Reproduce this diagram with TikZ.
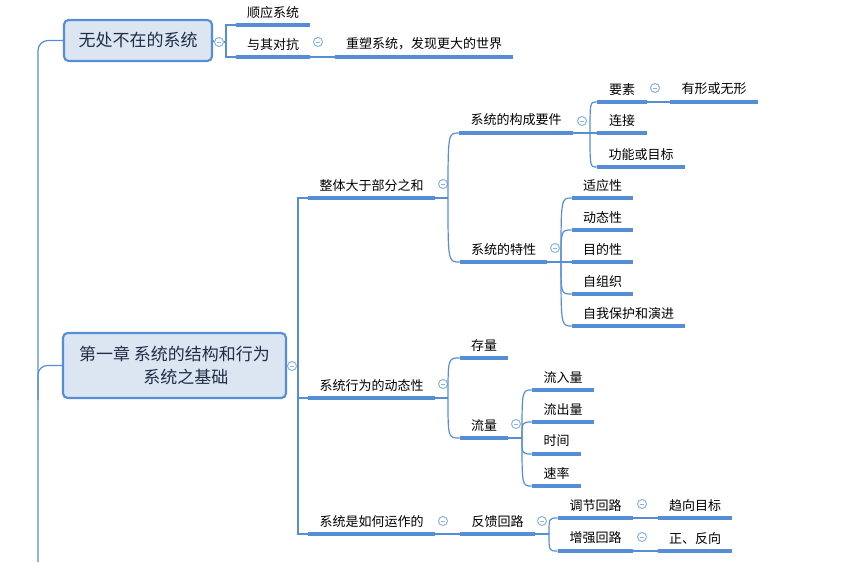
\documentclass[tikz,border=0pt]{standalone}
\usepackage{fontspec}
\setmainfont{Noto Sans CJK SC}
\usetikzlibrary{calc}
\definecolor{lblue}{RGB}{85,142,213}
\definecolor{fblue}{RGB}{141,179,226}
\definecolor{boxfill}{RGB}{220,230,242}
\definecolor{boxtext}{RGB}{31,45,70}
\newcommand\mybrace[2]{\draw[conn] (#1) .. controls (#1 |- #2.south west) and (#1 |- #2.south west) .. (#2.south west);}
\begin{document}
\begin{tikzpicture}[x=0.75pt,y=-0.75pt,
  conn/.style={draw=lblue, line width=0.9pt},
  uline/.style={draw=lblue, line width=2.4pt},
  topic/.style={anchor=south, inner sep=0pt, minimum height=19pt, font=\fontsize{9.75pt}{12pt}\selectfont, text=black},
  bigbox/.style={draw=lblue, line width=1.6pt, fill=boxfill, rounded corners=3.5pt, text=boxtext, font=\fontsize{12.75pt}{17pt}\selectfont, align=center, inner sep=0pt},
  fold/.style={circle, draw=fblue, fill=white, line width=0.75pt, minimum size=6.75pt, inner sep=0pt,
    path picture={\draw[fblue, line width=0.75pt] ([xshift=-1.8pt]path picture bounding box.center) -- ([xshift=1.8pt]path picture bounding box.center);}}
]
\useasboundingbox (0,0) rectangle (857,562);

% main boxes
\node[bigbox, minimum width=148*0.75pt, minimum height=41*0.75pt] (b1) at (138,40.5) {无处不在的系统};
\node[bigbox, minimum width=223*0.75pt, minimum height=65*0.75pt] (b2) at (174.5,365.5) {第一章 系统的结构和行为\\\hspace*{17pt}系统之基础};

% topics
\node[topic, minimum width=74*0.75pt] (a1) at (273,25) {顺应系统};
\node[topic, minimum width=74*0.75pt] (a2) at (273,57) {与其对抗};
\node[topic, minimum width=178*0.75pt] (a3) at (424,57) {重塑系统，发现更大的世界};

\node[topic, minimum width=127*0.75pt] (c1) at (371.5,198) {整体大于部分之和};
\node[topic, minimum width=127*0.75pt] (c2) at (371.5,398) {系统行为的动态性};
\node[topic, minimum width=127*0.75pt] (c3) at (371.5,534) {系统是如何运作的};

\node[topic, minimum width=114*0.75pt] (d1) at (516,133) {系统的构成要件};
\node[topic, minimum width=87*0.75pt] (d2) at (503.5,262) {系统的特性};

\node[topic, minimum width=50*0.75pt] (e1) at (622,102) {要素};
\node[topic, minimum width=50*0.75pt] (e2) at (622,133) {连接};
\node[topic, minimum width=88*0.75pt] (e3) at (641,167) {功能或目标};
\node[topic, minimum width=88*0.75pt] (e4) at (714,102) {有形或无形};

\node[topic, minimum width=61*0.75pt] (f1) at (602.5,198) {适应性};
\node[topic, minimum width=61*0.75pt] (f2) at (602.5,230) {动态性};
\node[topic, minimum width=61*0.75pt] (f3) at (602.5,262) {目的性};
\node[topic, minimum width=61*0.75pt] (f4) at (602.5,294) {自组织};
\node[topic, minimum width=113*0.75pt] (f5) at (628.5,326) {自我保护和演进};

\node[topic, minimum width=48*0.75pt] (g1) at (484,358) {存量};
\node[topic, minimum width=48*0.75pt] (g2) at (484,438) {流量};

\node[topic, minimum width=62*0.75pt] (h1) at (563,390) {流入量};
\node[topic, minimum width=62*0.75pt] (h2) at (563,422) {流出量};
\node[topic, minimum width=49*0.75pt] (h3) at (556.5,454) {时间};
\node[topic, minimum width=49*0.75pt] (h4) at (556.5,486) {速率};

\node[topic, minimum width=75*0.75pt] (i1) at (497.5,534) {反馈回路};
\node[topic, minimum width=75*0.75pt] (j1) at (595.5,518) {调节回路};
\node[topic, minimum width=75*0.75pt] (j2) at (595.5,551) {增强回路};
\node[topic, minimum width=74*0.75pt] (k1) at (695,518) {趋向目标};
\node[topic, minimum width=74*0.75pt] (k2) at (695,551) {正、反向};

% fold markers
\node[fold] (fb1) at (219,42) {};
\node[fold] (fa2) at (318,42) {};
\node[fold] (fb2) at (292,366) {};
\node[fold] (fc1) at (443,184) {};
\node[fold] (fc2) at (443,384) {};
\node[fold] (fc3) at (443,521) {};
\node[fold] (fd1) at (582,121) {};
\node[fold] (fd2) at (555,248) {};
\node[fold] (fe1) at (655,88) {};
\node[fold] (fg2) at (516,424) {};
\node[fold] (fi1) at (542,521) {};
\node[fold] (fj1) at (642,504) {};
\node[fold] (fj2) at (642,537) {};

% junction coordinates
\coordinate (rb) at (38,562);
\coordinate (rj) at (38,400);
\coordinate (k1c) at (226,42);
\coordinate (k2c) at (298,366);
\coordinate (p1) at (448,198);
\coordinate (p2) at (590,133);
\coordinate (p3) at (561,262);
\coordinate (p4) at (448,398);
\coordinate (p5) at (522,438);
\coordinate (p6) at (549,534);

% root connectors
\draw[conn, rounded corners=7.5pt] (rb) |- (b1.west);
\draw[conn, rounded corners=7pt] (rj) |- (b2.west);

% box 1
\draw[conn] (b1.east) -- (fb1.west);
\draw[conn] (fb1.east) -- (k1c);
\draw[conn] (k1c) |- (a1.south west);
\draw[conn] (k1c) |- (a2.south west);
\draw[conn] (a2.south east) -- (a3.south west);

% box 2
\draw[conn] (b2.east) -- (fb2.west);
\draw[conn] (fb2.east) -- (k2c);
\draw[conn] (k2c) |- (c1.south west);
\draw[conn] (k2c) |- (c2.south west);
\draw[conn] (k2c) |- (c3.south west);

% 整体大于部分之和
\draw[conn] (c1.south east) -- (p1);
\mybrace{p1}{d1}
\mybrace{p1}{d2}
\draw[conn] (d1.south east) -- (p2);
\mybrace{p2}{e1}
\draw[conn] (p2) -- (e2.south west);
\mybrace{p2}{e3}
\draw[conn] (e1.south east) -- (e4.south west);
\draw[conn] (d2.south east) -- (p3);
\mybrace{p3}{f1}
\mybrace{p3}{f2}
\draw[conn] (p3) -- (f3.south west);
\mybrace{p3}{f4}
\mybrace{p3}{f5}

% 系统行为的动态性
\draw[conn] (c2.south east) -- (p4);
\mybrace{p4}{g1}
\mybrace{p4}{g2}
\draw[conn] (g2.south east) -- (p5);
\mybrace{p5}{h1}
\mybrace{p5}{h2}
\mybrace{p5}{h3}
\mybrace{p5}{h4}

% 系统是如何运作的
\draw[conn] (c3.south east) -- (i1.south west);
\draw[conn] (i1.south east) -- (p6);
\mybrace{p6}{j1}
\mybrace{p6}{j2}
\draw[conn] (j1.south east) -- (k1.south west);
\draw[conn] (j2.south east) -- (k2.south west);

% underlines
\foreach \n in {a1,a2,a3,c1,c2,c3,d1,d2,e1,e2,e3,e4,f1,f2,f3,f4,f5,g1,g2,h1,h2,h3,h4,i1,j1,j2,k1,k2}
  \draw[uline] (\n.south west) -- (\n.south east);
\end{tikzpicture}
\end{document}
